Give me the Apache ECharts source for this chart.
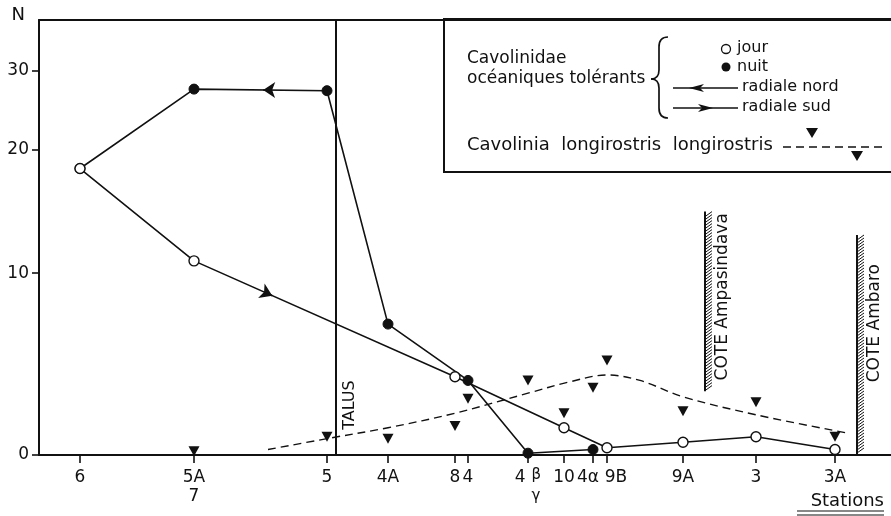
<!DOCTYPE html>
<html>
<head>
<meta charset="utf-8">
<script src="https://cdn.jsdelivr.net/npm/echarts/dist/echarts.min.js"></script>
<style>
  html, body { margin: 0; padding: 0; background: #fff; }
  #chart { width: 891px; height: 516px; }
</style>
</head>
<body>
<div id="chart"></div>
<script>
// stations along the section (distance units along the x axis)
const stations = ['6', '5A', '5', '4A', '8', '4', '4βγ', '10', '4α', '9B', '9A', '3', '3A'];
const stationDist = [41, 155, 288, 349, 416, 429, 489, 525, 554, 568, 644, 717, 796];

// the N axis of the figure is not linear: tick values and where they sit (0..100 of the height)
const yTicks = [0, 10, 20, 30];
const yKnotsN = [0, 10, 20, 30, 36.5];
const yKnotsPos = [0, 41.8, 70.1, 88.3, 100];

// Cavolinidae oceaniques tolerants
const nuitStations = ['6', '5A', '5', '4A', '4', '4βγ', '4α'];
const nuitN = [18.5, 27.7, 27.5, 7.2, 4.1, 0.1, 0.3];
const jourStations = ['6', '5A', '8', '10', '9B', '9A', '3', '3A'];
const jourN = [18.5, 11.0, 4.3, 1.5, 0.4, 0.7, 1.0, 0.3];

// Cavolinia longirostris longirostris
const cavoStations = ['5A', '5', '4A', '8', '4', '4βγ', '10', '4α', '9B', '9A', '3', '3A'];
const cavoN = [0.2, 1.0, 0.9, 1.6, 3.1, 4.1, 2.3, 3.7, 5.2, 2.4, 2.9, 1.0];
const trendDist = [229, 288, 349, 416, 489, 529, 568, 601, 644, 718, 809];
const trendN = [0.3, 0.9, 1.5, 2.3, 3.4, 4.0, 4.4, 4.1, 3.2, 2.2, 1.2];

// talus and coasts
const coastNames = ['TALUS', 'COTE Ampasindava', 'COTE Ambaro'];
const coastDist = [297, 666, 818];
const coastFromN = [0, 3.5, 0];
const coastToN = [36.5, 15.0, 13.1];
const coastLabelN = [2.75, 8.7, 7.25];
const coastHatched = [0, 1, 1];

const INK = '#111';
const FONT = '"DejaVu Sans", sans-serif';

function T(n) {
    for (let i = 1; i < yKnotsN.length; i++) {
        if (n <= yKnotsN[i]) {
            const a = yKnotsN[i - 1], b = yKnotsN[i];
            return yKnotsPos[i - 1] + (n - a) / (b - a) * (yKnotsPos[i] - yKnotsPos[i - 1]);
        }
    }
    return yKnotsPos[yKnotsPos.length - 1];
}

function distOf(st) {
    return stationDist[stations.indexOf(st)];
}

function toPoints(sts, vals) {
    return sts.map((s, i) => [distOf(s), T(vals[i])]);
}

const nuitData = toPoints(nuitStations, nuitN);
const jourData = toPoints(jourStations, jourN);
const cavoData = toPoints(cavoStations, cavoN);
const trendData = trendDist.map((d, i) => [d, T(trendN[i])]);

// arrowheads part way along a segment (direction of the radial)
function arrowOn(data, from, to, t) {
    const a = data[from], b = data[to];
    const tip = [a[0] + (b[0] - a[0]) * t, a[1] + (b[1] - a[1]) * t];
    const back = [a[0] + (b[0] - a[0]) * (t - 0.02), a[1] + (b[1] - a[1]) * (t - 0.02)];
    return { coords: [back, tip] };
}
const arrows = [
    arrowOn(nuitData, 2, 1, 0.48),  // radiale nord, 5 -> 5A
    arrowOn(jourData, 1, 2, 0.30)   // radiale sud, 5A -> 8
];

const coastData = coastDist.map((d, i) => [d, T(coastFromN[i]), T(coastToN[i]), T(coastLabelN[i]), coastHatched[i], i]);

function stationLabel(v) {
    const i = stationDist.indexOf(v);
    if (i < 0) return '';
    const s = stations[i];
    if (s === '5A') return '5A\n7';
    if (s === '4βγ') return '{n|4}{s|β}\n{g|γ}';
    if (s === '4α') return '{l|4α}';
    if (s === '9B') return '{r|9B}';
    return s;
}

function yLabel(v) {
    for (let i = 0; i < yTicks.length; i++) {
        if (Math.abs(T(yTicks[i]) - v) < 0.01) return String(yTicks[i]);
    }
    return '';
}

const chart = echarts.init(document.getElementById('chart'), null, { renderer: 'canvas' });

const braceStyle = { stroke: INK, lineWidth: 1.7, fill: null };
const AX = 17;

const option = {
    backgroundColor: '#fff',
    animation: false,
    textStyle: { fontFamily: FONT, color: INK },
    grid: { left: 39, right: 0, top: 20, bottom: 61 },
    xAxis: [{
        type: 'value',
        min: 0,
        max: 852,
        axisLine: { lineStyle: { color: INK, width: 2 } },
        axisTick: { customValues: stationDist, length: 8, lineStyle: { color: INK, width: 1.6 } },
        axisLabel: {
            customValues: stationDist,
            formatter: stationLabel,
            color: INK,
            fontSize: AX,
            fontFamily: FONT,
            margin: 13,
            lineHeight: 19,
            rich: {
                n: { fontSize: AX, fontFamily: FONT, color: INK, padding: [0, 6, 0, 0] },
                s: { fontSize: 15, fontFamily: FONT, color: INK, verticalAlign: 'top', padding: [0, 0, 10, 0] },
                g: { fontSize: 15, fontFamily: FONT, color: INK, padding: [0, 0, 0, 16] },
                l: { fontSize: AX, fontFamily: FONT, color: INK, padding: [0, 10, 0, 0] },
                r: { fontSize: AX, fontFamily: FONT, color: INK, padding: [0, 0, 0, 18] }
            }
        },
        splitLine: { show: false }
    }, {
        type: 'value',
        position: 'top',
        min: 0,
        max: 852,
        axisLine: { show: true, onZero: false, lineStyle: { color: INK, width: 2 } },
        axisTick: { show: false },
        axisLabel: { show: false },
        splitLine: { show: false }
    }],
    yAxis: {
        type: 'value',
        min: 0,
        max: 100,
        name: 'N',
        nameLocation: 'end',
        nameGap: 5,
        nameTextStyle: { fontSize: 18, fontFamily: FONT, color: INK, align: 'right', verticalAlign: 'middle', padding: [0, 14, 0, 0] },
        axisLine: { lineStyle: { color: INK, width: 2 } },
        axisTick: { customValues: yTicks.map(T), length: 7, lineStyle: { color: INK, width: 1.6 } },
        axisLabel: { customValues: yTicks.map(T), formatter: yLabel, color: INK, fontSize: AX, fontFamily: FONT, margin: 10 },
        splitLine: { show: false }
    },
    series: [
        {
            name: 'coasts',
            type: 'custom',
            clip: false,
            silent: true,
            data: coastData,
            encode: { x: 0, y: [1, 2] },
            renderItem: function (params, api) {
                const x = api.value(0);
                const p0 = api.coord([x, api.value(1)]);
                const p1 = api.coord([x, api.value(2)]);
                const pl = api.coord([x, api.value(3)]);
                const hatched = api.value(4) === 1;
                const children = [{
                    type: 'line',
                    shape: { x1: p0[0], y1: p0[1], x2: p1[0], y2: p1[1] },
                    style: { stroke: INK, lineWidth: 2 }
                }];
                if (hatched) {
                    for (let y = p1[1] + 5; y <= p0[1]; y += 3) {
                        children.push({
                            type: 'line',
                            shape: { x1: p0[0], y1: y, x2: p0[0] + 7, y2: y - 5 },
                            style: { stroke: INK, lineWidth: 1 }
                        });
                    }
                }
                children.push({
                    type: 'text',
                    x: p0[0] + (hatched ? 18 : 14),
                    y: pl[1],
                    rotation: Math.PI / 2,
                    style: {
                        text: coastNames[api.value(5)],
                        font: (hatched ? 17 : 16) + 'px ' + FONT,
                        fill: INK,
                        align: 'center',
                        verticalAlign: 'middle'
                    }
                });
                return { type: 'group', children: children };
            }
        },
        {
            name: 'Cavolinia longirostris longirostris (tendance)',
            type: 'line',
            data: trendData,
            smooth: 0.35,
            symbol: 'none',
            lineStyle: { color: INK, width: 1.4, type: [8, 5] }
        },
        {
            name: 'Cavolinia longirostris longirostris',
            type: 'scatter',
            data: cavoData,
            symbol: 'triangle',
            symbolRotate: 180,
            symbolSize: [11, 10],
            itemStyle: { color: INK, opacity: 1 }
        },
        {
            name: 'nuit - radiale nord',
            type: 'line',
            data: nuitData,
            symbol: 'circle',
            symbolSize: 10,
            showAllSymbol: true,
            lineStyle: { color: INK, width: 1.6 },
            itemStyle: { color: INK, borderColor: INK, borderWidth: 1, opacity: 1 }
        },
        {
            name: 'jour - radiale sud',
            type: 'line',
            data: jourData,
            symbol: 'circle',
            symbolSize: 10,
            showAllSymbol: true,
            lineStyle: { color: INK, width: 1.6 },
            itemStyle: { color: '#fff', borderColor: INK, borderWidth: 1.4, opacity: 1 }
        },
        {
            name: 'sens',
            type: 'lines',
            coordinateSystem: 'cartesian2d',
            data: arrows,
            symbol: ['none', 'arrow'],
            symbolSize: 12,
            lineStyle: { color: INK, width: 1.6, opacity: 1 },
            silent: true
        }
    ],
    graphic: [
        {
            type: 'group',
            z: 100,
            children: [
                { type: 'rect', shape: { x: 444, y: 19, width: 460, height: 153 }, style: { fill: '#fff', stroke: INK, lineWidth: 2 } },
                { type: 'text', x: 467, y: 59, style: { text: 'Cavolinidae', font: '17px ' + FONT, fill: INK, verticalAlign: 'middle' } },
                { type: 'text', x: 467, y: 79, style: { text: 'océaniques tolérants', font: '17px ' + FONT, fill: INK, verticalAlign: 'middle' } },
                // brace
                { type: 'bezierCurve', shape: { x1: 668, y1: 37, cpx1: 659, cpy1: 37, x2: 659, y2: 47 }, style: braceStyle },
                { type: 'line', shape: { x1: 659, y1: 47, x2: 659, y2: 70 }, style: braceStyle },
                { type: 'bezierCurve', shape: { x1: 659, y1: 70, cpx1: 659, cpy1: 79, x2: 651, y2: 79 }, style: braceStyle },
                { type: 'bezierCurve', shape: { x1: 651, y1: 79, cpx1: 659, cpy1: 79, x2: 659, y2: 88 }, style: braceStyle },
                { type: 'line', shape: { x1: 659, y1: 88, x2: 659, y2: 108 }, style: braceStyle },
                { type: 'bezierCurve', shape: { x1: 659, y1: 108, cpx1: 659, cpy1: 118, x2: 668, y2: 118 }, style: braceStyle },
                { type: 'circle', shape: { cx: 726, cy: 49, r: 4.5 }, style: { fill: '#fff', stroke: INK, lineWidth: 1.3 } },
                { type: 'text', x: 737, y: 48, style: { text: 'jour', font: '16px ' + FONT, fill: INK, verticalAlign: 'middle' } },
                { type: 'circle', shape: { cx: 726, cy: 67, r: 4.5 }, style: { fill: INK } },
                { type: 'text', x: 737, y: 67, style: { text: 'nuit', font: '16px ' + FONT, fill: INK, verticalAlign: 'middle' } },
                { type: 'line', shape: { x1: 673, y1: 88, x2: 738, y2: 88 }, style: { stroke: INK, lineWidth: 1.5 } },
                { type: 'polygon', shape: { points: [[689, 88], [704, 84], [700, 88], [704, 92]] }, style: { fill: INK } },
                { type: 'text', x: 742, y: 87, style: { text: 'radiale nord', font: '16px ' + FONT, fill: INK, verticalAlign: 'middle' } },
                { type: 'line', shape: { x1: 673, y1: 108, x2: 738, y2: 108 }, style: { stroke: INK, lineWidth: 1.5 } },
                { type: 'polygon', shape: { points: [[713, 108], [698, 104], [702, 108], [698, 112]] }, style: { fill: INK } },
                { type: 'text', x: 742, y: 107, style: { text: 'radiale sud', font: '16px ' + FONT, fill: INK, verticalAlign: 'middle' } },
                { type: 'text', x: 467, y: 145, style: { text: 'Cavolinia  longirostris  longirostris', font: '18px ' + FONT, fill: INK, verticalAlign: 'middle' } },
                { type: 'line', shape: { x1: 783, y1: 147, x2: 884, y2: 147 }, style: { stroke: INK, lineWidth: 1.4, lineDash: [8, 5] } },
                { type: 'polygon', shape: { points: [[806, 128], [818, 128], [812, 138]] }, style: { fill: INK } },
                { type: 'polygon', shape: { points: [[851, 151], [863, 151], [857, 161]] }, style: { fill: INK } }
            ]
        },
        {
            type: 'group',
            children: [
                { type: 'text', x: 884, y: 501, style: { text: 'Stations', font: '18px ' + FONT, fill: INK, align: 'right', verticalAlign: 'middle' } },
                { type: 'line', shape: { x1: 797, y1: 511, x2: 884, y2: 511 }, style: { stroke: INK, lineWidth: 1.2 } },
                { type: 'line', shape: { x1: 797, y1: 515, x2: 884, y2: 515 }, style: { stroke: INK, lineWidth: 1.2 } }
            ]
        }
    ]
};

chart.setOption(option);
</script>
</body>
</html>
